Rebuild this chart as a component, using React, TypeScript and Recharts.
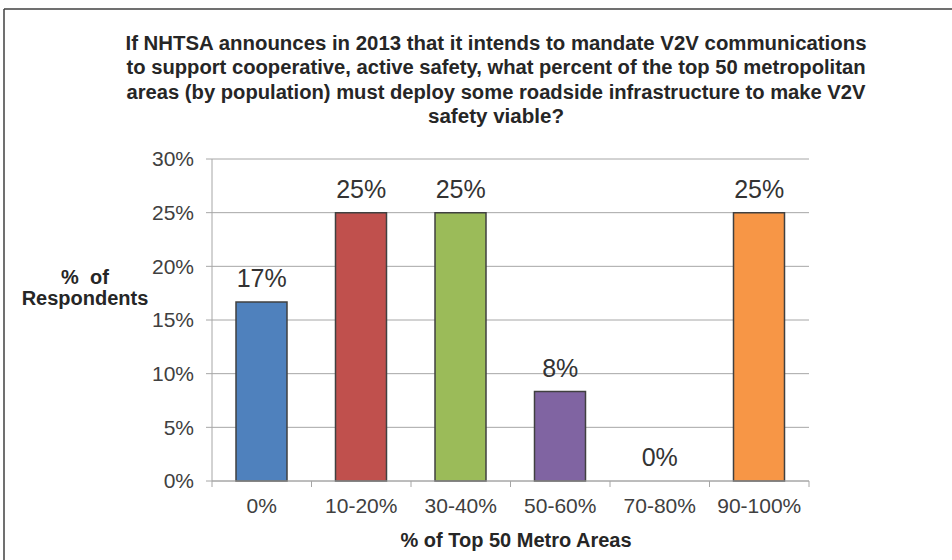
import React from 'react';
import { ComposedChart, Bar, Line, XAxis, YAxis, CartesianGrid, Cell, LabelList } from 'recharts';

const categories = ['0%', '10-20%', '30-40%', '50-60%', '70-80%', '90-100%'];
const values = [16.67, 25, 25, 8.33, 0, 25];
const colors = ['#4F81BD', '#C0504D', '#9BBB59', '#8064A2', '#4BACC6', '#F79646'];
const yTicks = [0, 5, 10, 15, 20, 25, 30];
const titleLines = [
  'If NHTSA announces in 2013 that it intends to mandate V2V communications',
  'to support cooperative, active safety, what percent of the top 50 metropolitan',
  'areas (by population) must deploy some roadside infrastructure to make V2V',
  'safety viable?',
];
const titleWidths = [741, 739, 739, 136];

const data = categories.map((c, i) => ({ cat: c, value: values[i] }));

const FONT = '"Liberation Sans", Arial, sans-serif';
const GRID = '#a6a6a6';
const TEXT = '#404040';
const TICK_SIZE = 6;
const TICK_MARGIN = 11;

const CategoryTick = (props: any) => {
  const { x, y, payload, index } = props;
  const half = payload && typeof payload.offset === 'number' ? payload.offset : 0;
  const axisY = y - TICK_SIZE - TICK_MARGIN;
  const last = index === data.length - 1;
  return (
    <g>
      <line x1={x - half} x2={x - half} y1={axisY} y2={axisY + TICK_SIZE} stroke={GRID} />
      {last && <line x1={x + half} x2={x + half} y1={axisY} y2={axisY + TICK_SIZE} stroke={GRID} />}
      <text x={x} y={y} dy="0.71em" textAnchor="middle" style={{ fontSize: 21, fill: TEXT, fontFamily: FONT }}>
        {payload.value}
      </text>
    </g>
  );
};

export default function App() {
  return (
    <div style={{ position: 'absolute', left: 0, top: 0, width: 952, height: 560, background: '#fff', fontFamily: FONT }}>
      <ComposedChart width={952} height={560} data={data} margin={{ top: 159, right: 143, bottom: 0, left: 0 }}>
        <CartesianGrid vertical={false} stroke={GRID} strokeWidth={1} />
        <XAxis
          dataKey="cat"
          height={79}
          tick={<CategoryTick />}
          tickLine={false}
          tickSize={TICK_SIZE}
          tickMargin={TICK_MARGIN}
          axisLine={{ stroke: GRID }}
          interval={0}
        />
        <YAxis
          width={212}
          domain={[0, 30]}
          ticks={yTicks}
          tickFormatter={(v: number) => `${v}%`}
          tick={{ fontSize: 21, fill: TEXT, fontFamily: FONT }}
          tickSize={6}
          tickMargin={12}
          axisLine={{ stroke: GRID }}
          tickLine={{ stroke: GRID }}
        />
        <Bar dataKey="value" barSize={51} isAnimationActive={false} stroke="#404040" strokeWidth={1.5}>
          {data.map((d, i) => (
            <Cell key={d.cat} fill={colors[i]} />
          ))}
        </Bar>
        <Line
          dataKey="value"
          stroke="none"
          dot={false}
          activeDot={false}
          isAnimationActive={false}
          legendType="none"
        >
          <LabelList
            dataKey="value"
            position="top"
            offset={15}
            formatter={(v: number) => `${Math.round(v)}%`}
            style={{ fontSize: 25, fill: '#333', fontFamily: FONT }}
          />
        </Line>
      </ComposedChart>
      <svg width={952} height={560} style={{ position: 'absolute', left: 0, top: 0, pointerEvents: 'none' }}>
        <line x1={4} y1={9} x2={952} y2={9} stroke="#404040" strokeWidth={1.5} />
        <line x1={4} y1={9} x2={4} y2={560} stroke="#404040" strokeWidth={1.5} />
        {titleLines.map((t, i) => (
          <text
            key={i}
            x={496}
            y={50 + i * 24.3}
            textAnchor="middle"
            textLength={titleWidths[i]}
            lengthAdjust="spacingAndGlyphs"
            style={{ fontSize: 20, fontWeight: 'bold', fill: '#262626', fontFamily: FONT }}
          >
            {t}
          </text>
        ))}
        <text x={85} y={284} textAnchor="middle" style={{ fontSize: 20, fontWeight: 'bold', fill: '#262626', fontFamily: FONT, whiteSpace: 'pre' }}>
          {'%  of'}
        </text>
        <text x={85} y={305} textAnchor="middle" style={{ fontSize: 20, fontWeight: 'bold', fill: '#262626', fontFamily: FONT }}>
          Respondents
        </text>
        <text x={516} y={547} textAnchor="middle" style={{ fontSize: 20, fontWeight: 'bold', fill: '#262626', fontFamily: FONT }}>
          % of Top 50 Metro Areas
        </text>
      </svg>
    </div>
  );
}
